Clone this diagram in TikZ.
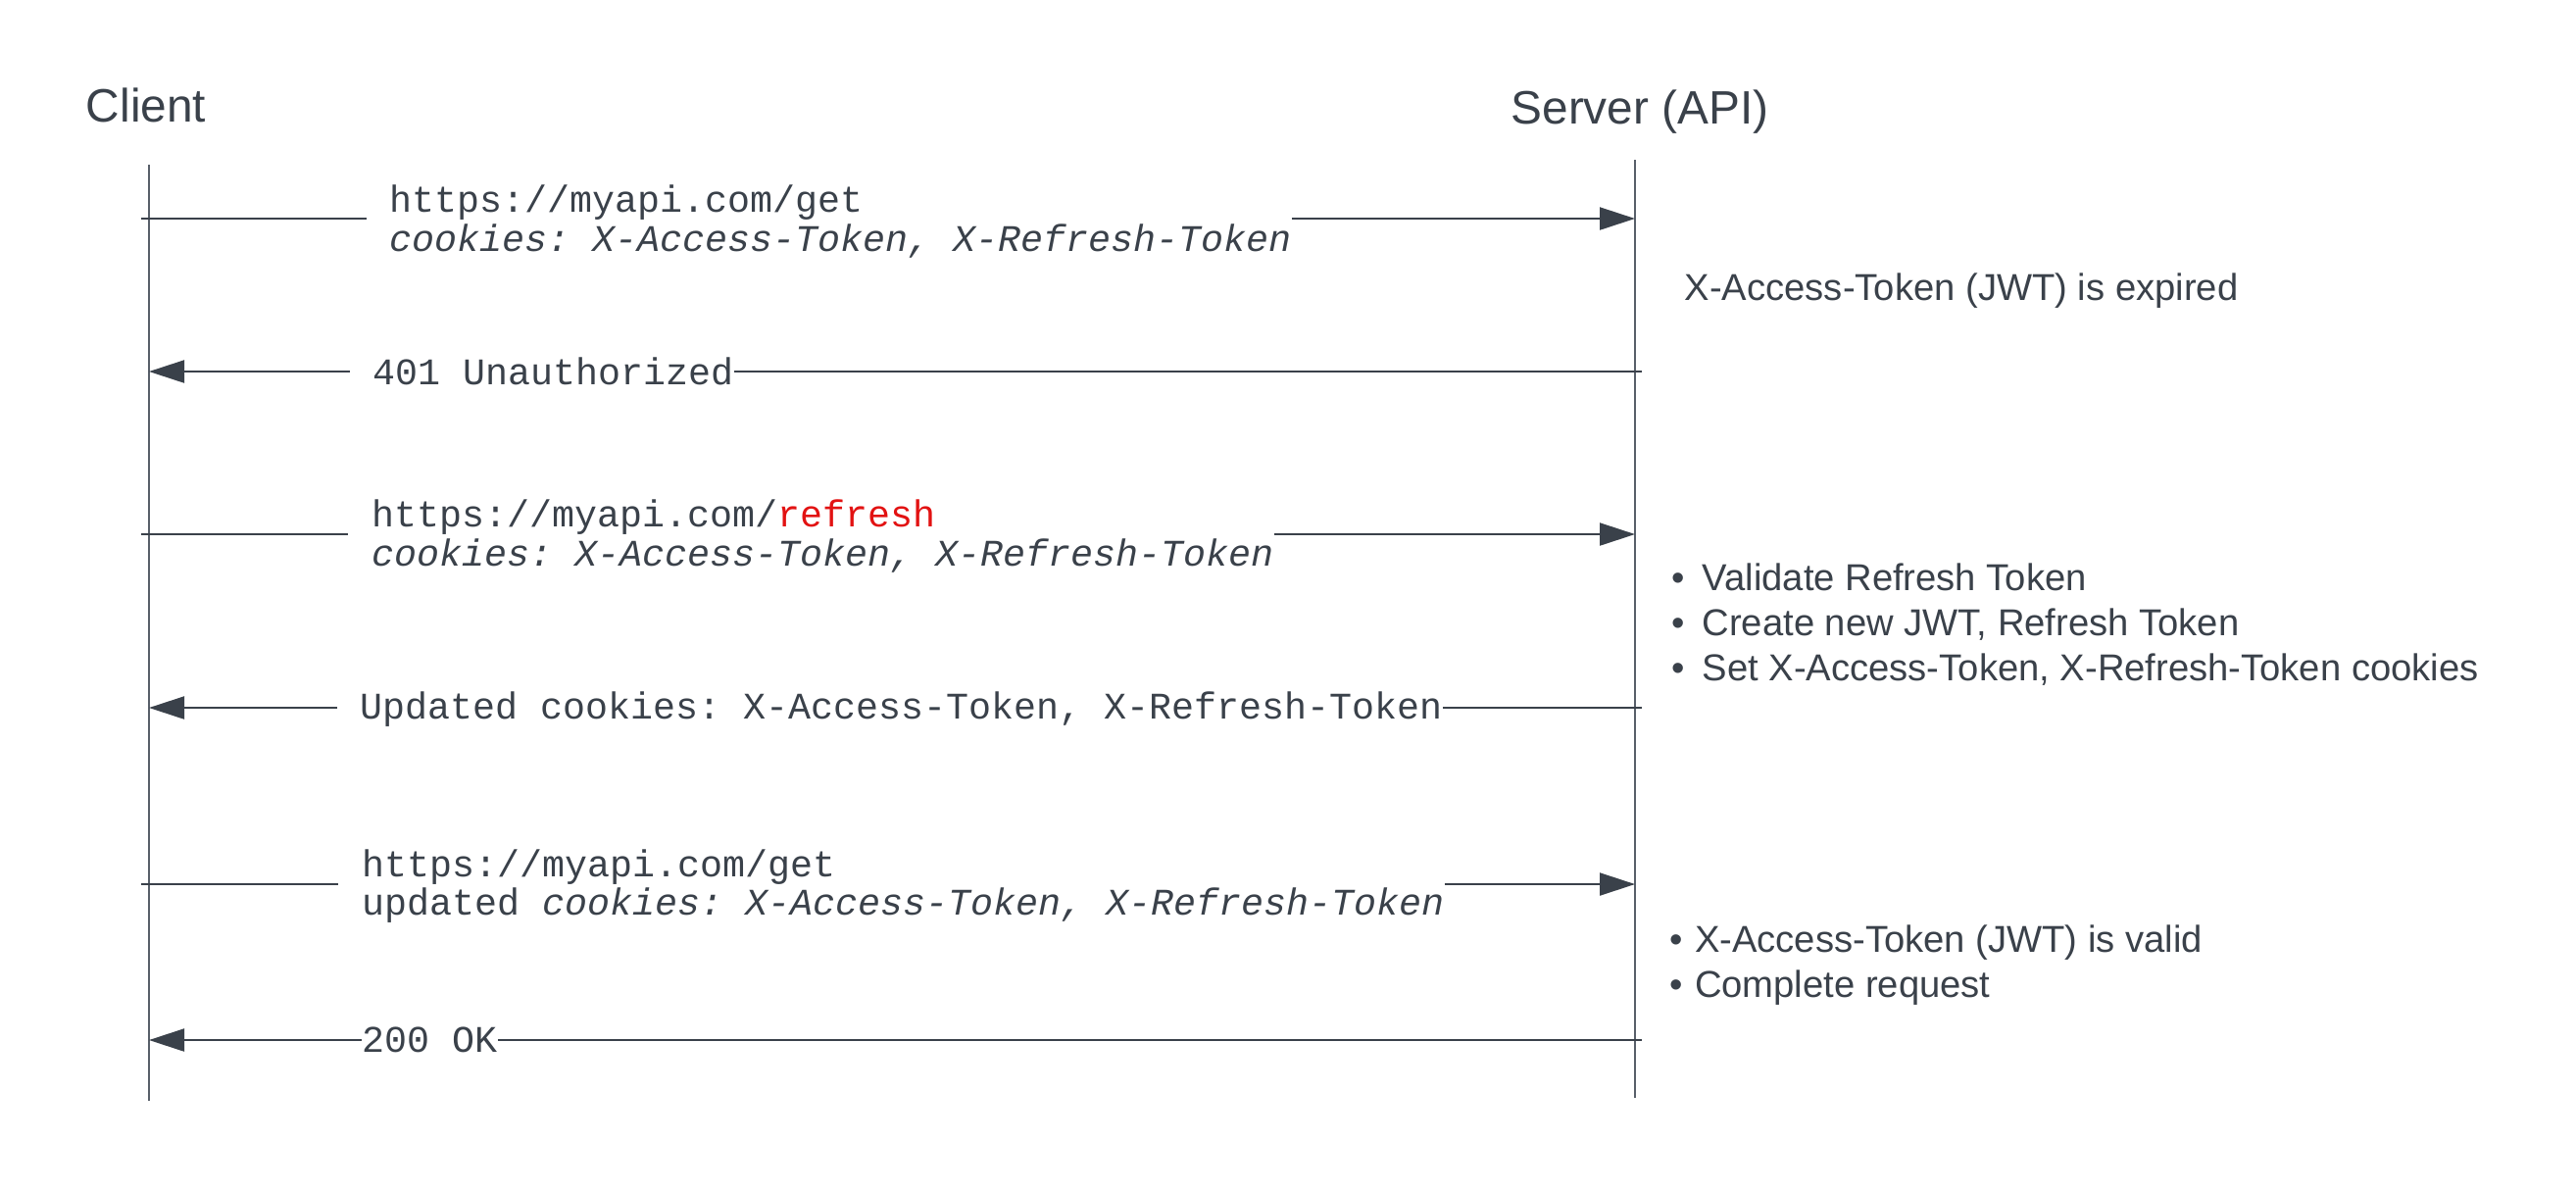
\documentclass[tikz,border=0pt]{standalone}
\usepackage{fontspec}
\setmainfont{Liberation Sans}
\setmonofont{Liberation Mono}
\usetikzlibrary{arrows.meta}

\definecolor{ink}{RGB}{58,65,74}
\definecolor{lifegray}{RGB}{88,95,105}
\definecolor{urlred}{RGB}{226,18,18}

\begin{document}
\begin{tikzpicture}[
	lifeline/.style={line width=0.6pt, lifegray},
	msg/.style={line width=0.6pt, ink},
	tip/.style={-{Triangle[length=3.6mm, width=2.3mm]}},
	actor/.style={font=\fontsize{13.6}{16}\selectfont, text=ink, inner sep=0pt},
	call/.style={font=\fontsize{10.9}{11.2}\selectfont\ttfamily, text=ink,
		align=left, anchor=west, inner sep=0pt},
	note/.style={font=\fontsize{10.87}{13.1}\selectfont, text=ink,
		align=left, anchor=west, inner sep=0pt}
]
	\useasboundingbox (0,0) rectangle (26.28,-12.14);

	\node [actor] (client) at (1.49,-1.07) {Client};
	\node [actor] (server) at (16.73,-1.14) {Server (API)};

	\coordinate (ctop) at (1.52,-1.68);
	\coordinate (cbot) at (1.52,-11.23);
	\coordinate (stop) at (16.68,-1.63);
	\coordinate (sbot) at (16.68,-11.20);

	\draw [lifeline] (ctop) -- (cbot);
	\draw [lifeline] (stop) -- (sbot);

	\foreach \i/\y in {1/2.23, 2/3.79, 3/5.45, 4/7.22, 5/9.02, 6/10.61}
	{
		\coordinate (c\i) at (1.52,-\y);
		\coordinate (s\i) at (16.68,-\y);
	}

	\node [call] (get) at (3.97,-2.26)
		{https://myapi.com/get\\\textit{cookies: X-Access-Token, X-Refresh-Token}};
	\node [call] (unauth) at (3.80,-3.79) {401 Unauthorized};
	\node [call] (refresh) at (3.79,-5.47)
		{https://myapi.com/\textcolor{urlred}{refresh}\\\textit{cookies: X-Access-Token, X-Refresh-Token}};
	\node [call] (updated) at (3.67,-7.24) {Updated cookies: X-Access-Token, X-Refresh-Token};
	\node [call] (retry) at (3.69,-9.04)
		{https://myapi.com/get\\updated \textit{cookies: X-Access-Token, X-Refresh-Token}};
	\node [call] (ok) at (3.69,-10.61) {200 OK};

	\draw [msg, shorten <=-0.8mm] (c1) -- ([xshift=-2.3mm]get.west |- c1);
	\draw [msg, tip] (get.east |- s1) -- (s1);

	\draw [msg, tip] ([xshift=-2.3mm]unauth.west) -- (c2);
	\draw [msg, shorten >=-0.7mm] (unauth.east) -- (s2);

	\draw [msg, shorten <=-0.8mm] (c3) -- ([xshift=-2.4mm]refresh.west |- c3);
	\draw [msg, tip] (refresh.east |- s3) -- (s3);

	\draw [msg, tip] ([xshift=-2.3mm]updated.west |- c4) -- (c4);
	\draw [msg, shorten >=-0.7mm] (updated.east |- s4) -- (s4);

	\draw [msg, shorten <=-0.8mm] (c5) -- ([xshift=-2.4mm]retry.west |- c5);
	\draw [msg, tip] (retry.east |- s5) -- (s5);

	\draw [msg, tip] (ok.west) -- (c6);
	\draw [msg, shorten >=-0.7mm] (ok.east) -- (s6);

	\node [note] (expired) at (17.18,-2.97) {X-Access-Token (JWT) is expired};
	\node [note] (refreshsteps) at (17.05,-6.37)
		{\textbullet\hspace{5pt}Validate Refresh Token\\
		\textbullet\hspace{5pt}Create new JWT, Refresh Token\\
		\textbullet\hspace{5pt}Set X-Access-Token, X-Refresh-Token cookies};
	\node [note] (validsteps) at (17.03,-9.85)
		{\textbullet\hspace{3.4pt}X-Access-Token (JWT) is valid\\
		\textbullet\hspace{3.4pt}Complete request};
\end{tikzpicture}
\end{document}
